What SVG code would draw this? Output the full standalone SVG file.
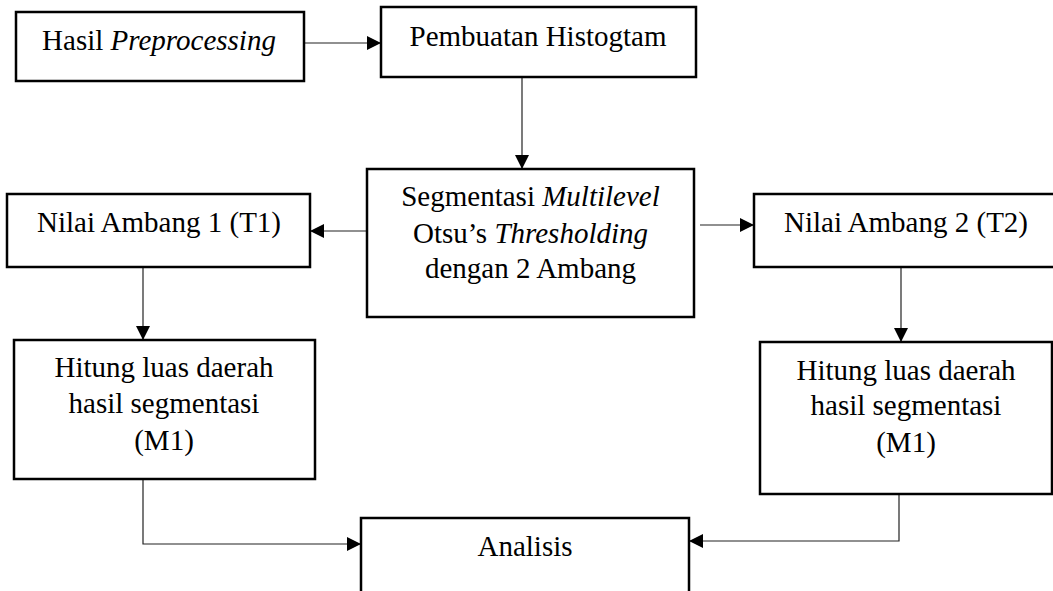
<svg xmlns="http://www.w3.org/2000/svg" width="1053" height="591" viewBox="0 0 1053 591">
<style>
.box{fill:#fff;stroke:#000;stroke-width:2.5}
.t{font-family:"Liberation Serif","Times New Roman",serif;font-size:29px;fill:#000;text-anchor:middle}
.i{font-style:italic}
.c{fill:none;stroke:#222;stroke-width:1.2}
</style>
<defs>
<marker id="ah" markerUnits="userSpaceOnUse" markerWidth="14" markerHeight="14" viewBox="0 0 14 14" refX="14" refY="7" orient="auto">
<path d="M0,0 L14,7 L0,14 Z" fill="#000"/>
</marker>
</defs>
<rect width="1053" height="591" fill="#fff"/>
<g id="connectors">
<line class="c" x1="304" y1="43" x2="381" y2="43" marker-end="url(#ah)"/>
<line class="c" x1="522" y1="77" x2="522" y2="169" marker-end="url(#ah)"/>
<line class="c" x1="367" y1="231" x2="310" y2="231" marker-end="url(#ah)"/>
<line class="c" x1="700" y1="225" x2="754" y2="225" marker-end="url(#ah)"/>
<line class="c" x1="143" y1="267" x2="143" y2="340" marker-end="url(#ah)"/>
<line class="c" x1="901" y1="267" x2="901" y2="342" marker-end="url(#ah)"/>
<polyline class="c" points="143,479 143,544 361,544" marker-end="url(#ah)"/>
<polyline class="c" points="899,494 899,541 689,541" marker-end="url(#ah)"/>
</g>
<g id="n-preprocessing">
<rect class="box" x="16" y="12" width="288" height="69"/>
<text class="t" x="159" y="50">Hasil <tspan class="i">Preprocessing</tspan></text>
</g>
<g id="n-histogram">
<rect class="box" x="381" y="7" width="315" height="70"/>
<text class="t" x="538" y="46">Pembuatan Histogtam</text>
</g>
<g id="n-segmentasi">
<rect class="box" x="367" y="169" width="327" height="148"/>
<text class="t" x="530.5" y="206">Segmentasi <tspan class="i">Multilevel</tspan></text>
<text class="t" x="530.5" y="243">Otsu’s <tspan class="i">Thresholding</tspan></text>
<text class="t" x="530.5" y="278">dengan 2 Ambang</text>
</g>
<g id="n-t1">
<rect class="box" x="7" y="194" width="303" height="73"/>
<text class="t" x="159" y="232">Nilai Ambang 1 (T1)</text>
</g>
<g id="n-t2">
<rect class="box" x="754" y="194" width="310" height="73"/>
<text class="t" x="906" y="232">Nilai Ambang 2 (T2)</text>
</g>
<g id="n-hitung1">
<rect class="box" x="14" y="340" width="301" height="139"/>
<text class="t" x="164" y="377">Hitung luas daerah</text>
<text class="t" x="164" y="413">hasil segmentasi</text>
<text class="t" x="164" y="450">(M1)</text>
</g>
<g id="n-hitung2">
<rect class="box" x="760" y="342" width="292" height="152"/>
<text class="t" x="906" y="380">Hitung luas daerah</text>
<text class="t" x="906" y="415">hasil segmentasi</text>
<text class="t" x="906" y="452">(M1)</text>
</g>
<g id="n-analisis">
<rect class="box" x="361" y="518" width="328" height="100"/>
<text class="t" x="525" y="556">Analisis</text>
</g>
</svg>
